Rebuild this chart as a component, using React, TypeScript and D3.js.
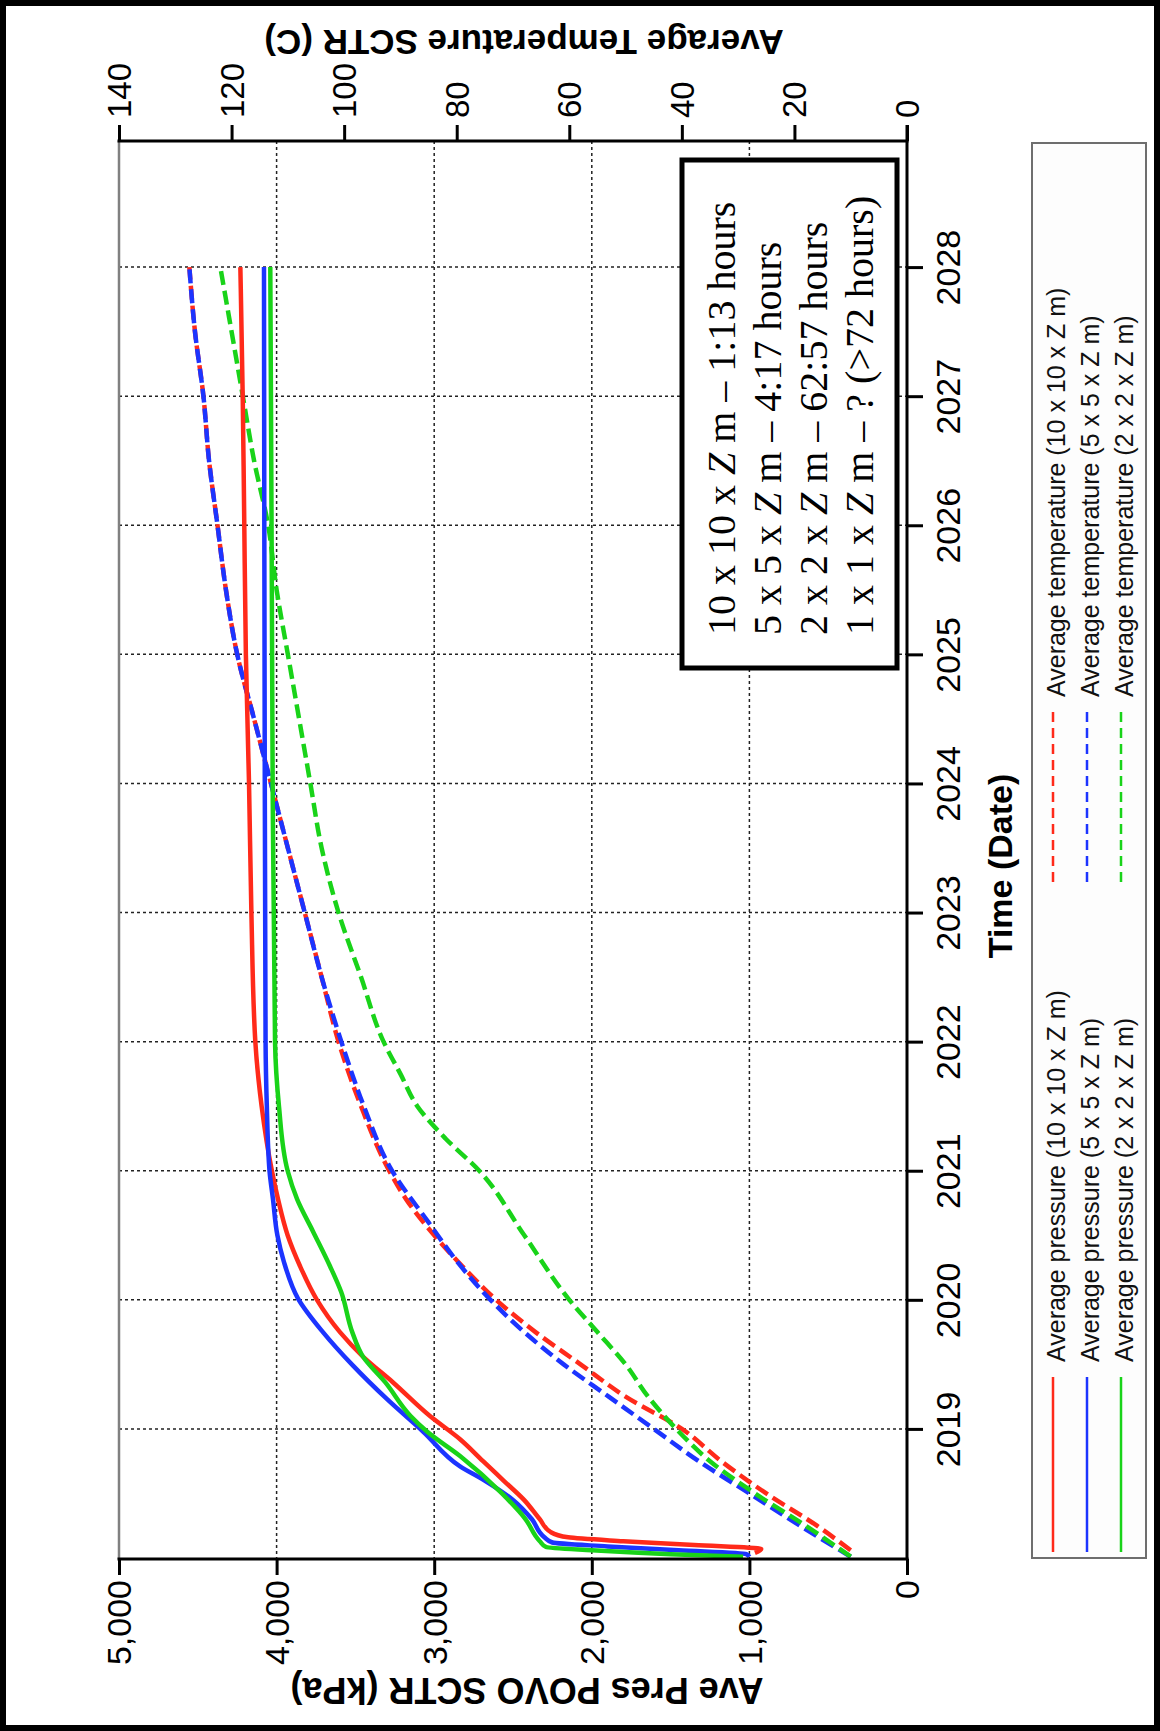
import React, { useEffect, useRef } from "react";
import * as d3 from "d3";

// axis ticks
const yearTicks = [2019, 2020, 2021, 2022, 2023, 2024, 2025, 2026, 2027, 2028];
const pressureTicks = [0, 1000, 2000, 3000, 4000, 5000];
const tempTicks = [0, 20, 40, 60, 80, 100, 120, 140];

// average pressure, [year, kPa]
const pres10x10: [number, number][] = [
  [2018.04, 965], [2018.07, 925], [2018.1, 1350], [2018.13, 1800], [2018.16, 2150], [2018.2, 2260],
  [2018.3, 2330], [2018.45, 2430], [2018.6, 2560], [2018.75, 2690], [2018.92, 2836], [2019.1, 3027],
  [2019.36, 3261], [2019.56, 3452], [2019.75, 3598], [2020.0, 3744], [2020.26, 3851], [2020.5, 3930],
  [2020.78, 3991], [2021.0, 4030], [2021.5, 4095], [2022.0, 4135], [2023.0, 4160], [2024.0, 4175],
  [2025.0, 4195], [2026.0, 4205], [2027.0, 4215], [2028.0, 4230],
];
const pres5x5: [number, number][] = [
  [2018.01, 1000], [2018.03, 1020], [2018.06, 1450], [2018.09, 1900], [2018.12, 2250], [2018.16, 2300],
  [2018.3, 2380], [2018.45, 2500], [2018.6, 2680], [2018.71, 2836], [2018.98, 3071], [2019.23, 3299],
  [2019.49, 3515], [2019.75, 3706], [2020.01, 3864], [2020.3, 3955], [2020.5, 3995], [2020.78, 4023],
  [2021.0, 4045], [2021.5, 4062], [2022.0, 4070], [2024.0, 4075], [2026.0, 4078], [2028.0, 4080],
];
const pres2x2: [number, number][] = [
  [2018.01, 1040], [2018.03, 1500], [2018.06, 2000], [2018.085, 2290], [2018.13, 2330], [2018.3, 2420],
  [2018.5, 2570], [2018.79, 2836], [2018.98, 3046], [2019.1, 3150], [2019.36, 3310], [2019.56, 3452],
  [2019.75, 3520], [2020.06, 3590], [2020.26, 3661], [2020.53, 3769], [2020.78, 3870], [2021.0, 3930],
  [2021.5, 3985], [2022.0, 4010], [2024.0, 4025], [2026.0, 4032], [2028.0, 4040],
];

// average temperature, [year, °C]
const temp10x10: [number, number][] = [
  [2018.06, 10], [2018.25, 16], [2018.5, 25], [2018.75, 33], [2019.0, 40], [2019.25, 50], [2019.5, 58],
  [2019.75, 66], [2020.0, 73], [2020.26, 79], [2020.5, 84], [2020.78, 89], [2021.0, 92], [2021.5, 97],
  [2022.0, 101], [2022.5, 104], [2023.0, 107], [2023.5, 110], [2024.0, 113], [2024.5, 116], [2025.0, 119],
  [2025.5, 121], [2026.0, 122.5], [2026.5, 124], [2027.0, 125], [2027.5, 126.5], [2028.0, 127.5],
];
const temp5x5: [number, number][] = [
  [2018.01, 10], [2018.25, 19], [2018.5, 28], [2018.75, 37], [2019.0, 45], [2019.25, 53], [2019.5, 61],
  [2019.75, 68], [2020.0, 74], [2020.3, 80], [2020.6, 85], [2021.0, 91.5], [2021.5, 96.5], [2022.0, 100.5],
  [2022.5, 104], [2023.0, 107], [2023.5, 110], [2024.0, 113], [2024.5, 116], [2025.0, 119], [2025.5, 121],
  [2026.0, 122.5], [2026.5, 124], [2027.0, 125], [2027.5, 126.5], [2028.0, 127.5],
];
const temp2x2: [number, number][] = [
  [2018.01, 10], [2018.25, 18], [2018.5, 27], [2018.75, 35], [2019.0, 41], [2019.25, 46], [2019.5, 50],
  [2019.75, 55], [2020.0, 60], [2020.5, 68], [2021.0, 76], [2021.25, 82], [2021.5, 87], [2021.75, 90],
  [2022.0, 93], [2022.5, 97], [2023.0, 101], [2023.5, 104], [2024.0, 106], [2024.5, 108], [2025.0, 110],
  [2025.5, 112], [2026.0, 113.5], [2026.5, 116], [2027.0, 118], [2027.5, 120], [2028.0, 122],
];

const gridSizes = ["10 x 10 x Z m", "5 x 5 x Z m", "2 x 2 x Z m"];
const seriesColors = ["#ff2a1a", "#1c34ff", "#19d319"];
const runSizes = ["10 x 10", "5 x 5", "2 x 2", "1 x 1"];
const runTimes = ["1:13 hours", "4:17 hours", "62:57 hours", "? (>72 hours)"];

const SANS = "Arial, 'Liberation Sans', Helvetica, sans-serif";
const SERIF = "'Times New Roman', 'Liberation Serif', serif";

const App = () => {
  const chartRef = useRef<SVGSVGElement | null>(null);

  useEffect(() => {
    drawChart();
  }, []);

  const drawChart = () => {
    const width = 1160, height = 1731;
    // plot frame (the whole figure is turned a quarter left: time runs upward)
    const left = 119, right = 907, top = 141, bottom = 1559;

    const svg = d3.select(chartRef.current);
    svg.selectAll("*").remove();

    svg.append("rect").attr("width", width).attr("height", height).attr("fill", "#fff");

    const yTime = d3.scaleLinear().domain([2018, 2029]).range([1558, 138]);
    const xPres = d3.scaleLinear().domain([0, 5000]).range([right, left]);
    const xTemp = d3.scaleLinear().domain([0, 140]).range([right, left]);

    // grid
    const grid = svg.append("g").attr("stroke", "#222").attr("stroke-width", 1.5).attr("stroke-dasharray", "3,3");
    grid.selectAll(".hg").data(yearTicks).join("line")
      .attr("x1", left).attr("x2", right)
      .attr("y1", d => yTime(d)).attr("y2", d => yTime(d));
    grid.selectAll(".vg").data(pressureTicks.slice(1, -1)).join("line")
      .attr("x1", d => xPres(d)).attr("x2", d => xPres(d))
      .attr("y1", top).attr("y2", bottom);

    // series
    const presLine = d3.line<[number, number]>()
      .x(d => xPres(d[1])).y(d => yTime(d[0])).curve(d3.curveMonotoneY);
    const tempLine = d3.line<[number, number]>()
      .x(d => xTemp(d[1])).y(d => yTime(d[0])).curve(d3.curveMonotoneY);

    const tempSeries = [temp10x10, temp5x5, temp2x2];
    const presSeries = [pres10x10, pres5x5, pres2x2];

    tempSeries.forEach((s, i) => {
      svg.append("path").attr("d", tempLine(s)).attr("fill", "none")
        .attr("stroke", seriesColors[i]).attr("stroke-width", 4.5)
        .attr("stroke-dasharray", "14,6");
    });
    presSeries.forEach((s, i) => {
      svg.append("path").attr("d", presLine(s)).attr("fill", "none")
        .attr("stroke", seriesColors[i]).attr("stroke-width", 4.5)
        .attr("stroke-linejoin", "round");
    });

    // run-time box
    const box = svg.append("g");
    box.append("rect").attr("x", 682).attr("y", 160).attr("width", 215).attr("height", 508)
      .attr("fill", "#fff").attr("stroke", "#000").attr("stroke-width", 5);
    runSizes.forEach((s, i) => {
      const t = box.append("text")
        .attr("transform", `translate(${735 + i * 46},635) rotate(-90)`)
        .attr("font-family", SERIF).attr("font-size", 40).attr("fill", "#000");
      t.append("tspan").text(`${s} x `);
      t.append("tspan").attr("font-style", "italic").text("Z");
      t.append("tspan").text(` m – ${runTimes[i]}`);
    });

    // frame
    svg.append("line").attr("x1", left).attr("x2", left).attr("y1", top).attr("y2", bottom)
      .attr("stroke", "#808080").attr("stroke-width", 2.5);

    const styleTicks = (g: any) => {
      g.select(".domain").remove();
      g.selectAll("line").attr("stroke", "#000").attr("stroke-width", 3);
      g.selectAll("text").attr("font-family", SANS).attr("fill", "#000");
    };

    svg.append("g").attr("transform", `translate(0,${bottom})`)
      .call(d3.axisBottom(xPres).tickValues(pressureTicks).tickSize(16).tickSizeOuter(0).tickFormat(d3.format(",")))
      .call(styleTicks)
      .call((g: any) => g.selectAll("text").attr("transform", "rotate(-90)")
        .attr("x", -21).attr("y", 0).attr("dy", "0.35em").attr("text-anchor", "end").attr("font-size", 34));

    svg.append("g").attr("transform", `translate(0,${top})`)
      .call(d3.axisTop(xTemp).tickValues(tempTicks).tickSize(16).tickSizeOuter(0).tickFormat(d3.format("d")))
      .call(styleTicks)
      .call((g: any) => g.selectAll("text").attr("transform", "rotate(-90)")
        .attr("x", 23).attr("y", 0).attr("dy", "0.35em").attr("text-anchor", "start").attr("font-size", 33));

    svg.append("g").attr("transform", `translate(${right},0)`)
      .call(d3.axisRight(yTime).tickValues(yearTicks).tickSize(16).tickSizeOuter(0).tickFormat(d3.format("d")))
      .call(styleTicks)
      .call((g: any) => g.selectAll("text").attr("transform", "rotate(-90)")
        .attr("x", 0).attr("y", 53).attr("dy", 0).attr("text-anchor", "middle").attr("font-size", 34));

    const frame = svg.append("g").attr("stroke", "#000").attr("stroke-width", 3);
    frame.append("line").attr("x1", left - 1.5).attr("x2", right + 1.5).attr("y1", top).attr("y2", top);
    frame.append("line").attr("x1", left - 1.5).attr("x2", right + 1.5).attr("y1", bottom).attr("y2", bottom);
    frame.append("line").attr("x1", right).attr("x2", right).attr("y1", top - 16).attr("y2", bottom);

    // axis titles
    svg.append("text").attr("transform", "translate(524,30) rotate(180)")
      .attr("text-anchor", "middle").attr("font-family", SANS).attr("font-weight", "bold")
      .attr("font-size", 35).text("Average Temperature SCTR (C)");
    svg.append("text").attr("transform", "translate(527,1678) rotate(180)")
      .attr("text-anchor", "middle").attr("font-family", SANS).attr("font-weight", "bold")
      .attr("font-size", 36).text("Ave Pres POVO SCTR (kPa)");
    svg.append("text").attr("transform", "translate(1012,866) rotate(-90)")
      .attr("text-anchor", "middle").attr("font-family", SANS).attr("font-weight", "bold")
      .attr("font-size", 34).text("Time (Date)");

    // legend
    const lg = svg.append("g");
    lg.append("rect").attr("x", 1032).attr("y", 143).attr("width", 114).attr("height", 1415)
      .attr("fill", "#fdfdfd").attr("stroke", "#6e6e6e").attr("stroke-width", 2);
    gridSizes.forEach((s, i) => {
      const lx = 1053 + i * 34;
      lg.append("line").attr("x1", lx).attr("x2", lx).attr("y1", 1377).attr("y2", 1552)
        .attr("stroke", seriesColors[i]).attr("stroke-width", 2.5);
      lg.append("text").attr("transform", `translate(${lx + 12},1362) rotate(-90)`)
        .attr("font-family", SANS).attr("font-size", 25).attr("fill", "#111")
        .text(`Average pressure (${s})`);
      lg.append("line").attr("x1", lx).attr("x2", lx).attr("y1", 712).attr("y2", 885)
        .attr("stroke", seriesColors[i]).attr("stroke-width", 2.5).attr("stroke-dasharray", "10,6");
      lg.append("text").attr("transform", `translate(${lx + 12},697) rotate(-90)`)
        .attr("font-family", SANS).attr("font-size", 25).attr("fill", "#111")
        .text(`Average temperature (${s})`);
    });

    // outer border
    svg.append("rect").attr("x", 3).attr("y", 3).attr("width", width - 6).attr("height", height - 6)
      .attr("fill", "none").attr("stroke", "#000").attr("stroke-width", 6);
  };

  return (
    <svg ref={chartRef} width={1160} height={1731}
      style={{ position: "absolute", left: 0, top: 0, display: "block" }} />
  );
};

export default App;
